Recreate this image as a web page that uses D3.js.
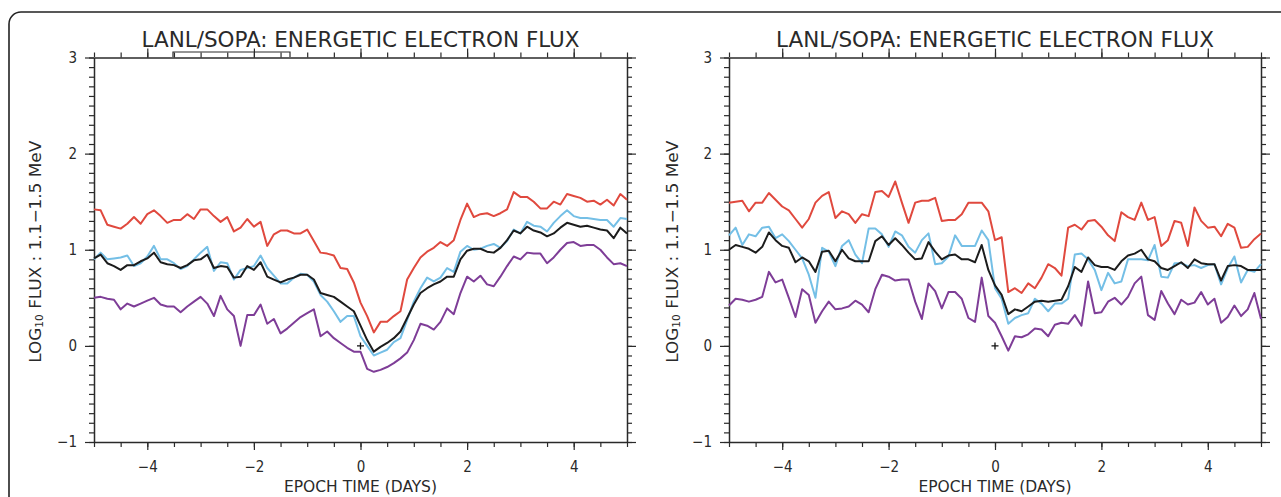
<!DOCTYPE html>
<html>
<head>
<meta charset="utf-8">
<script src="https://cdn.jsdelivr.net/npm/d3@7/dist/d3.min.js"></script>
<style>
  html, body { margin: 0; padding: 0; background: #fff; }
  svg { display: block; }
  text { font-family: "Liberation Sans Narrow", "DejaVu Sans Condensed", "Roboto Condensed", "Arial Narrow", "Liberation Sans", sans-serif; fill: #2a2a2a; }
</style>
</head>
<body>
<svg id="chart" width="1281" height="497"></svg>
<script>
// ---------------- data ----------------
const epochDays = [-5,-4.875,-4.75,-4.625,-4.5,-4.375,-4.25,-4.125,-4,-3.875,-3.75,-3.625,-3.5,-3.375,-3.25,-3.125,-3,-2.875,-2.75,-2.625,-2.5,-2.375,-2.25,-2.125,-2,-1.875,-1.75,-1.625,-1.5,-1.375,-1.25,-1.125,-1,-0.875,-0.75,-0.625,-0.5,-0.375,-0.25,-0.125,0,0.125,0.25,0.375,0.5,0.625,0.75,0.875,1,1.125,1.25,1.375,1.5,1.625,1.75,1.875,2,2.125,2.25,2.375,2.5,2.625,2.75,2.875,3,3.125,3.25,3.375,3.5,3.625,3.75,3.875,4,4.125,4.25,4.375,4.5,4.625,4.75,4.875,5];

const xTickLabels = [-4, -2, 0, 2, 4];
const yTickLabels = [-1, 0, 1, 2, 3];
const titleText = "LANL/SOPA: ENERGETIC ELECTRON FLUX";
const xAxisTitle = "EPOCH TIME (DAYS)";

// Left panel
const leftRed = [1.42,1.41,1.26,1.24,1.22,1.27,1.34,1.27,1.37,1.41,1.35,1.28,1.31,1.31,1.37,1.32,1.42,1.42,1.35,1.29,1.34,1.19,1.23,1.32,1.24,1.29,1.04,1.16,1.20,1.20,1.17,1.17,1.21,1.09,0.97,0.96,0.94,0.81,0.80,0.66,0.45,
  0.31,0.14,0.25,0.25,0.31,0.36,0.69,0.81,0.92,0.98,1.02,1.08,1.04,1.10,1.31,1.48,1.34,1.37,1.38,1.35,1.38,1.42,1.60,1.55,1.55,1.50,1.43,1.43,1.50,1.47,1.58,1.56,1.54,1.50,1.51,1.47,1.52,1.46,1.58,1.52];
const leftBlue = [0.90,0.97,0.90,0.91,0.92,0.94,0.83,0.86,0.93,1.04,0.90,0.90,0.86,0.80,0.83,0.90,0.97,1.03,0.78,0.87,0.86,0.69,0.79,0.81,0.83,0.94,0.81,0.73,0.65,0.65,0.71,0.75,0.74,0.67,0.53,0.46,0.36,0.25,0.31,0.31,0.10,
  0.00,-0.10,-0.07,-0.04,0.04,0.08,0.27,0.46,0.60,0.71,0.67,0.71,0.81,0.77,0.98,1.04,1.00,1.01,1.04,1.06,1.02,1.09,1.21,1.17,1.29,1.25,1.24,1.19,1.28,1.35,1.41,1.35,1.33,1.33,1.32,1.31,1.31,1.24,1.33,1.32];
const leftBlack = [0.91,0.95,0.86,0.83,0.79,0.84,0.84,0.88,0.91,0.97,0.87,0.85,0.84,0.81,0.84,0.89,0.90,0.95,0.81,0.83,0.82,0.71,0.72,0.83,0.79,0.87,0.72,0.69,0.66,0.69,0.71,0.74,0.74,0.69,0.55,0.53,0.51,0.46,0.41,0.36,0.21,
  0.06,-0.06,-0.01,0.03,0.08,0.15,0.29,0.43,0.55,0.60,0.64,0.67,0.72,0.72,0.90,0.99,1.01,1.01,0.98,0.97,1.02,1.10,1.20,1.17,1.24,1.20,1.18,1.14,1.17,1.23,1.28,1.26,1.24,1.25,1.23,1.21,1.20,1.12,1.23,1.17];
const leftPurple = [0.50,0.51,0.49,0.48,0.38,0.44,0.41,0.44,0.47,0.50,0.43,0.41,0.41,0.35,0.41,0.46,0.51,0.44,0.31,0.52,0.38,0.31,0.00,0.32,0.32,0.43,0.23,0.28,0.13,0.18,0.24,0.30,0.34,0.38,0.10,0.15,0.08,0.03,-0.02,-0.06,-0.06,
  -0.24,-0.27,-0.25,-0.22,-0.18,-0.13,-0.07,0.06,0.23,0.21,0.17,0.25,0.39,0.33,0.55,0.72,0.67,0.73,0.64,0.62,0.72,0.83,0.93,0.90,0.97,0.96,0.96,0.86,0.92,1.00,1.07,1.08,1.04,1.05,1.05,1.00,0.92,0.85,0.86,0.83];

// Right panel
const rightRed = [1.49,1.50,1.51,1.40,1.49,1.49,1.59,1.52,1.45,1.41,1.32,1.23,1.32,1.49,1.56,1.60,1.33,1.40,1.37,1.28,1.37,1.35,1.60,1.61,1.55,1.71,1.49,1.28,1.49,1.51,1.51,1.54,1.30,1.31,1.31,1.37,1.49,1.49,1.49,1.40,1.10,
  1.13,0.56,0.60,0.55,0.65,0.60,0.71,0.85,0.81,0.73,1.23,1.26,1.21,1.30,1.31,1.24,1.15,1.09,1.39,1.34,1.31,1.49,1.31,1.34,1.04,1.10,1.30,1.28,1.04,1.44,1.30,1.23,1.24,1.14,1.27,1.23,1.02,1.03,1.11,1.17];
const rightBlue = [1.15,1.23,1.05,1.16,1.14,1.23,1.24,1.12,1.16,1.09,1.00,0.91,0.74,0.50,1.02,0.98,0.83,1.04,1.10,0.95,0.86,1.22,1.22,1.16,1.03,1.19,1.15,1.03,0.97,1.10,1.17,0.85,0.86,0.93,1.15,1.04,1.04,1.04,1.20,1.10,0.60,
  0.49,0.23,0.29,0.32,0.34,0.49,0.44,0.36,0.44,0.44,0.49,0.95,0.96,0.90,0.79,0.58,0.76,0.65,0.67,0.90,0.90,0.90,0.89,1.05,0.72,0.71,0.86,0.86,0.83,0.84,0.81,0.84,0.85,0.64,0.81,0.93,0.66,0.79,0.77,0.85];
const rightBlack = [1.00,1.05,1.03,1.01,0.97,1.03,1.18,1.10,1.04,1.02,0.87,0.92,0.88,0.77,0.98,0.99,0.88,1.00,0.91,0.88,0.88,0.88,1.09,1.14,1.05,1.12,1.05,0.97,0.90,0.91,1.08,0.98,0.90,0.94,0.95,0.90,0.90,0.87,1.05,0.79,0.63,
  0.53,0.33,0.38,0.36,0.41,0.46,0.47,0.46,0.47,0.48,0.62,0.82,0.77,0.92,0.84,0.82,0.82,0.79,0.88,0.94,0.96,1.00,0.90,0.88,0.81,0.79,0.83,0.87,0.81,0.90,0.86,0.85,0.85,0.68,0.83,0.84,0.83,0.79,0.79,0.79];
const rightPurple = [0.42,0.49,0.48,0.46,0.48,0.51,0.77,0.66,0.69,0.50,0.30,0.59,0.53,0.24,0.36,0.46,0.38,0.39,0.41,0.47,0.43,0.35,0.59,0.74,0.72,0.68,0.69,0.69,0.46,0.28,0.65,0.57,0.39,0.56,0.56,0.49,0.29,0.25,0.71,0.31,0.24,
  0.10,-0.05,0.10,0.09,0.12,0.18,0.17,0.10,0.22,0.24,0.23,0.32,0.21,0.67,0.34,0.35,0.46,0.50,0.43,0.51,0.65,0.72,0.32,0.27,0.57,0.44,0.33,0.48,0.43,0.45,0.56,0.43,0.49,0.24,0.30,0.42,0.31,0.38,0.55,0.28];

const epochMarker = [{t: 0, v: 0}];

// ---------------- drawing ----------------
const svg = d3.select("#chart");
const C = { red: "#e0493e", blue: "#74bfe6", black: "#1c1c1c", purple: "#7e3d97", axis: "#2a2a2a" };

// outer frame
svg.append("rect").attr("x", 9).attr("y", 12).attr("width", 1300).attr("height", 520)
  .attr("rx", 12).attr("fill", "none").attr("stroke", "#222").attr("stroke-width", 1.6);

const panels = [
  { x0: 94, x1: 627, series: [leftRed, leftPurple, leftBlue, leftBlack], yLabelX: 36, bracket: true },
  { x0: 729, x1: 1261, series: [rightRed, rightPurple, rightBlue, rightBlack], yLabelX: 673, bracket: false }
];
const colors = [C.red, C.purple, C.blue, C.black];
const yTop = 57.5, yBot = 442;

panels.forEach(p => {
  const x = d3.scaleLinear().domain([-5, 5]).range([p.x0, p.x1]);
  const y = d3.scaleLinear().domain([-1, 3]).range([yBot, yTop]);
  const g = svg.append("g");

  const minorX = d3.range(-5, 5.001, 0.5);
  const minorY = d3.range(-1, 3.001, 0.1).map(v => Math.round(v * 10) / 10);

  function styleAxis(sel) {
    sel.selectAll("path.domain").attr("stroke", C.axis).attr("stroke-width", 1.5);
    sel.selectAll(".tick line").attr("stroke", C.axis).attr("stroke-width", 1.2);
    sel.selectAll(".tick text").attr("font-size", 15).attr("fill", "#2a2a2a")
      .style("font-family", '"Liberation Sans Narrow","DejaVu Sans Condensed","Liberation Sans",sans-serif');
  }
  const fmt = d => d < 0 ? "\u2212" + Math.abs(d) : String(d);

  // bottom axis
  g.append("g").attr("transform", `translate(0,${yBot})`)
    .call(d3.axisBottom(x).tickValues(minorX).tickSize(5).tickSizeOuter(0).tickFormat(""))
    .call(styleAxis);
  g.append("g").attr("transform", `translate(0,${yBot})`)
    .call(d3.axisBottom(x).tickValues(xTickLabels).tickSize(8).tickSizeOuter(0).tickPadding(11).tickFormat(fmt))
    .call(styleAxis).call(s => s.select("path.domain").remove());
  // top axis
  g.append("g").attr("transform", `translate(0,${yTop})`)
    .call(d3.axisTop(x).tickValues(minorX).tickSize(5).tickSizeOuter(0).tickFormat(""))
    .call(styleAxis);
  g.append("g").attr("transform", `translate(0,${yTop})`)
    .call(d3.axisTop(x).tickValues(xTickLabels).tickSize(9).tickSizeOuter(0).tickFormat(""))
    .call(styleAxis).call(s => s.select("path.domain").remove());
  // left axis
  g.append("g").attr("transform", `translate(${p.x0},0)`)
    .call(d3.axisLeft(y).tickValues(minorY).tickSize(5).tickSizeOuter(0).tickFormat(""))
    .call(styleAxis);
  g.append("g").attr("transform", `translate(${p.x0},0)`)
    .call(d3.axisLeft(y).tickValues(yTickLabels).tickSize(9).tickSizeOuter(0).tickPadding(8).tickFormat(fmt))
    .call(styleAxis).call(s => s.select("path.domain").remove());
  // right axis
  g.append("g").attr("transform", `translate(${p.x1},0)`)
    .call(d3.axisRight(y).tickValues(minorY).tickSize(5).tickSizeOuter(0).tickFormat(""))
    .call(styleAxis);
  g.append("g").attr("transform", `translate(${p.x1},0)`)
    .call(d3.axisRight(y).tickValues(yTickLabels).tickSize(9).tickSizeOuter(0).tickFormat(""))
    .call(styleAxis).call(s => s.select("path.domain").remove());

  // series lines
  const line = d3.line().x((d, i) => x(epochDays[i])).y(d => y(d));
  p.series.forEach((s, i) => {
    g.append("path").datum(s).attr("d", line).attr("fill", "none")
      .attr("stroke", colors[i]).attr("stroke-width", 2).attr("stroke-linejoin", "round");
  });

  // epoch marker "+"
  g.selectAll(".mk").data(epochMarker).enter().append("path")
    .attr("d", d => `M${x(d.t) - 3.5},${y(d.v)}H${x(d.t) + 3.5}M${x(d.t)},${y(d.v) - 3.5}V${y(d.v) + 3.5}`)
    .attr("stroke", "#111").attr("stroke-width", 1.3);

  // title
  const cx = (p.x0 + p.x1) / 2;
  g.append("text").attr("x", cx).attr("y", 47).attr("text-anchor", "middle")
    .attr("font-size", 21).attr("font-weight", 300).attr("textLength", 438).attr("lengthAdjust", "spacingAndGlyphs")
    .text(titleText);

  // x-axis title
  g.append("text").attr("x", cx).attr("y", 492).attr("text-anchor", "middle")
    .attr("font-size", 15).attr("textLength", 153).attr("lengthAdjust", "spacingAndGlyphs")
    .text(xAxisTitle);

  // y-axis title
  const yl = g.append("text").attr("transform", `translate(${p.yLabelX},${(yTop + yBot) / 2 + 2}) rotate(-90)`)
    .attr("text-anchor", "middle").attr("font-size", 16).attr("dominant-baseline", "middle")
    .attr("textLength", 222).attr("lengthAdjust", "spacingAndGlyphs");
  yl.append("tspan").text("LOG");
  yl.append("tspan").attr("font-size", 10).attr("dy", 4).text("10");
  yl.append("tspan").attr("dy", -4).text(" FLUX : 1.1\u22121.5 MeV");

  if (p.bracket) {
    g.append("path").attr("d", "M173,57 V52 H290 V57").attr("fill", "none")
      .attr("stroke", C.axis).attr("stroke-width", 1.2);
  }
});
</script>
</body>
</html>
